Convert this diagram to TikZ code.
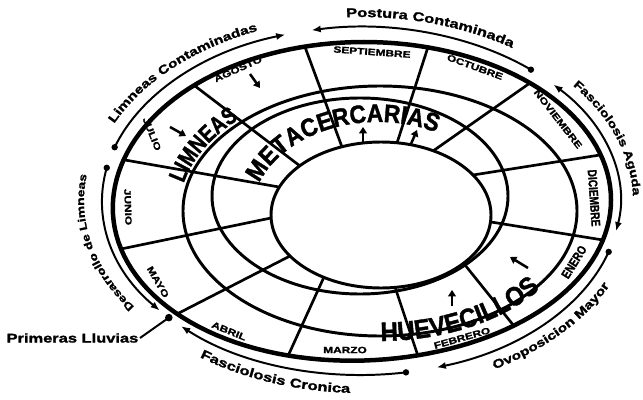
\documentclass[tikz,border=0pt]{standalone}
\usepackage{fontspec}
\setmainfont{Liberation Sans}
\newfontfamily\widefont[FakeStretch=1.3, BoldFeatures={FakeBold=1.6}]{Liberation Sans}
\newfontfamily\narrowfont[FakeStretch=0.8, BoldFeatures={FakeBold=1.4}]{Liberation Sans}
\newfontfamily\stagefont[FakeStretch=0.9, BoldFeatures={FakeBold=1.4}]{Liberation Sans}
\usetikzlibrary{arrows.meta, decorations.text}

\tikzset{
  ring/.style={line width=2.1pt},
  spoke/.style={line width=1.9pt},
  period/.style={line width=1.4pt},
  periodtip/.style={period, -{Latex[length=6.5pt,width=5pt]}},
  bothtips/.style={period, {Latex[length=6.5pt,width=5pt]}-{Latex[length=6.5pt,width=5pt]}},
  month/.style={font=\widefont\bfseries\fontsize{6.5}{6.5}\selectfont, inner sep=0pt},
  heavymonth/.style={font=\narrowfont\bfseries\fontsize{9}{9}\selectfont, inner sep=0pt},
  stagearrow/.style={line width=1.8pt, -{Triangle[length=4.5pt,width=5.5pt]}},
  curvedlabel/.style={decorate, decoration={text along path, text align=center, text={#1}}},
}

\begin{document}
\begin{tikzpicture}[x=0.025cm, y=-0.025cm]
  \useasboundingbox (0,0) rectangle (643,400);
  \fill[white] (0,0) rectangle (643,400);

  % rings (the outer one bulges a little at the lower left)
  \draw[ring, line width=3.2pt] plot[domain=0:360, samples=145, variable=\t]
    ({364+247*(1+0.045*max(0,cos(\t-135))^3)*cos(\t)},
     {200+158*(1+0.045*max(0,cos(\t-135))^3)*sin(\t)}) -- cycle;
  \draw[ring] (380,211) ellipse [x radius=197, y radius=125];
  \draw[ring] (360,196) ellipse [x radius=148, y radius=98];
  \draw[ring] (381,215) ellipse [x radius=110, y radius=73];

  % spokes: outer end / inner end
  \foreach \xo/\yo/\xi/\yi in {305/47/342/147, 428/47/397/143, 530/83/433/151,
      600/155/473/175, 603/240/491/222, 514/326/465/265, 418/356/395/287,
      288/356/324/277, 177/314/290/256, 121/249/271/218, 125/160/279/187,
      195/86/300/166}
    \draw[spoke] (\xo,\yo) -- (\xi,\yi);

  % months
  \node[month, rotate=24]  (agosto)     at (238,69)  {AGOSTO};
  \node[month, rotate=-4]  (septiembre) at (372,52)  {SEPTIEMBRE};
  \node[month, rotate=-20] (octubre)    at (475,67)  {OCTUBRE};
  \node[month, rotate=-52] (noviembre)  at (558,119) {NOVIEMBRE};
  \node[heavymonth, rotate=-86] (diciembre) at (594,198) {DICIEMBRE};
  \node[heavymonth, rotate=58]  (enero)     at (574,262) {ENERO};
  \node[month, rotate=16]  (febrero)    at (462,338) {FEBRERO};
  \node[month]             (marzo)      at (345,350) {MARZO};
  \node[month, rotate=-22] (abril)      at (229,331) {ABRIL};
  \node[month, rotate=-60] (mayo)       at (158,282) {MAYO};
  \node[month, rotate=-88] (junio)      at (128,207) {JUNIO};
  \node[month, rotate=-68] (julio)      at (152,134) {JULIO};

  % stages
  \path[curvedlabel={|\narrowfont\bfseries\fontsize{17}{17}\selectfont|LIMNEAS}]
    (380,211) ++(178:201 and 129) arc [start angle=178, end angle=236, x radius=201, y radius=129];
  \path[curvedlabel={|\stagefont\bfseries\fontsize{18}{18}\selectfont|METACERCARIAS}]
    (378,214) ++(188:126 and 92) arc [start angle=188, end angle=307, x radius=126, y radius=92];
  \path[curvedlabel={|\stagefont\bfseries\fontsize{19}{19}\selectfont|HUEVECILLOS}]
    (380,211) ++(98:200 and 130) arc [start angle=98, end angle=26, x radius=200, y radius=130];

  \draw[stagearrow] (250,74) -- (260,88);
  \draw[stagearrow] (170,127) -- (186,136);
  \draw[stagearrow] (363,142) -- (363,127);
  \draw[stagearrow] (411,144) -- (417,130);
  \draw[stagearrow] (528,268) -- (510,257);
  \draw[stagearrow] (452,306) -- (452,290);

  % period boundaries on the outer track
  \path (361,201) ++(137.9:259 and 174) coordinate (b1);
  \path (361,201) ++(194.4:259 and 174) coordinate (b2);
  \path (361,201) ++(256:259 and 174)   coordinate (b3);
  \path (361,201) ++(314.9:259 and 174) coordinate (b4);
  \path (361,201) ++(13.6:259 and 174)  coordinate (b5);
  \path (361,201) ++(76.3:259 and 174)  coordinate (b6);

  % periods
  \draw[periodtip] (361,201) ++(17:259 and 174) arc [start angle=17, end angle=73, x radius=259, y radius=174];
  \draw[periodtip] (361,201) ++(80:259 and 174) arc [start angle=80, end angle=134, x radius=259, y radius=174];
  \draw[periodtip] (361,201) ++(191:259 and 174) arc [start angle=191, end angle=141, x radius=259, y radius=174];
  \draw[periodtip] (361,201) ++(198:259 and 174) arc [start angle=198, end angle=253, x radius=259, y radius=174];
  \draw[periodtip] (361,201) ++(311:259 and 174) arc [start angle=311, end angle=259, x radius=259, y radius=174];
  \draw[bothtips]  (361,201) ++(318:259 and 174) arc [start angle=318, end angle=370, x radius=259, y radius=174];
  \foreach \t in {17, 80, 191, 198, 311}
    \fill (361,201) ++(\t:259 and 174) circle (3.2);

  % period names
  \path[curvedlabel={|\widefont\bfseries\fontsize{9}{9}\selectfont|Postura Contaminada}]
    (361,201) ++(256:272 and 184) arc [start angle=256, end angle=316, x radius=272, y radius=184];
  \path[curvedlabel={|\widefont\bfseries\fontsize{8}{8}\selectfont|Fasciolosis Aguda}]
    (361,201) ++(315:272 and 184) arc [start angle=315, end angle=366, x radius=272, y radius=184];
  \path[curvedlabel={|\widefont\bfseries\fontsize{8.5}{8.5}\selectfont|Ovoposicion Mayor}]
    (361,201) ++(75:277 and 192) arc [start angle=75, end angle=8, x radius=277, y radius=192];
  \path[curvedlabel={|\widefont\bfseries\fontsize{9}{9}\selectfont|Fasciolosis Cronica}]
    (361,201) ++(142:277 and 192) arc [start angle=142, end angle=78, x radius=277, y radius=192];
  \path[curvedlabel={|\widefont\bfseries\fontsize{7.5}{7.5}\selectfont|Desarrollo de Limneas}]
    (361,201) ++(140:277 and 184) arc [start angle=140, end angle=194, x radius=277, y radius=184];
  \path[curvedlabel={|\widefont\bfseries\fontsize{8.5}{8.5}\selectfont|Limneas Contaminadas}]
    (361,201) ++(195:272 and 184) arc [start angle=195, end angle=255, x radius=272, y radius=184];

  \node[font=\widefont\bfseries\fontsize{9}{9}\selectfont, anchor=east, inner sep=1pt]
    (lluvias) at (140,338) {Primeras Lluvias};
  \draw[period] (lluvias.east) -- (b1);
  \fill (b1) circle (3.8);
\end{tikzpicture}
\end{document}
